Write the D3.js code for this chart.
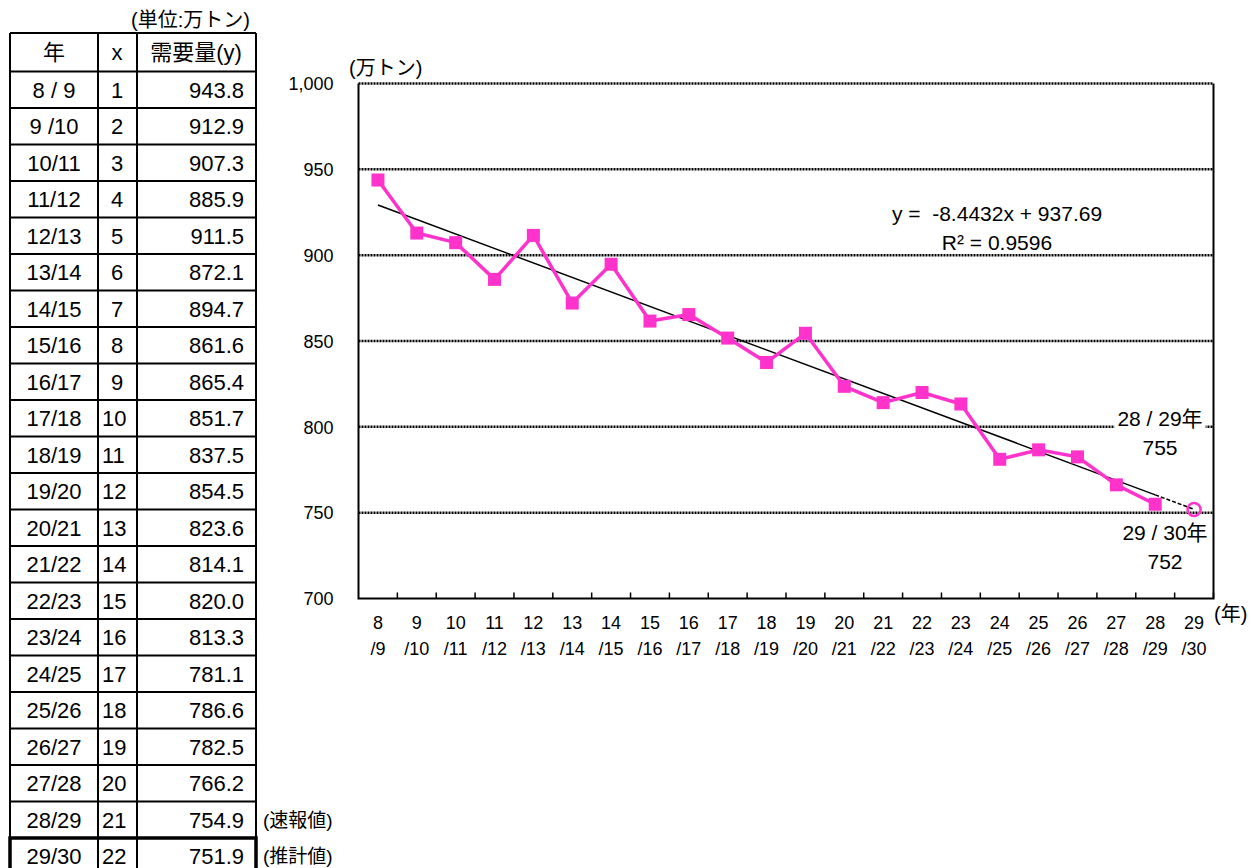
<!DOCTYPE html>
<html lang="ja">
<head>
<meta charset="utf-8">
<script src="https://cdn.jsdelivr.net/npm/d3@7"></script>
<style>
  html, body { margin: 0; padding: 0; background: #fff; }
  svg text { font-family: "Liberation Sans", Arial, "Noto Sans CJK JP", sans-serif; fill: #000; }
</style>
</head>
<body>
<svg id="chart" width="1252" height="868"></svg>
<script>
// Fiscal-year labels used in the table
const yearLabels = ["8 / 9", "9 /10", "10/11", "11/12", "12/13", "13/14", "14/15", "15/16", "16/17", "17/18", "18/19",
  "19/20", "20/21", "21/22", "22/23", "23/24", "24/25", "25/26", "26/27", "27/28", "28/29", "29/30"];
// Sequence number x
const xIndex = [1, 2, 3, 4, 5, 6, 7, 8, 9, 10, 11, 12, 13, 14, 15, 16, 17, 18, 19, 20, 21, 22];
// Demand (10,000 t)
const demand = [943.8, 912.9, 907.3, 885.9, 911.5, 872.1, 894.7, 861.6, 865.4, 851.7, 837.5,
  854.5, 823.6, 814.1, 820.0, 813.3, 781.1, 786.6, 782.5, 766.2, 754.9, 751.9];
// Axis tick labels (two lines per category)
const tickTop = ["8", "9", "10", "11", "12", "13", "14", "15", "16", "17", "18", "19", "20", "21", "22", "23", "24", "25", "26", "27", "28", "29"];
const tickBottom = ["/9", "/10", "/11", "/12", "/13", "/14", "/15", "/16", "/17", "/18", "/19", "/20", "/21", "/22", "/23", "/24", "/25", "/26", "/27", "/28", "/29", "/30"];
const yTicks = [700, 750, 800, 850, 900, 950, 1000];
// Linear trend (least squares over x = 1..21)
const trendSlope = -8.4432;
const trendIntercept = 937.69;
const rSquared = 0.9596;

(function draw() {
const svg = d3.select("#chart");
const PINK = "#ff33cc";

/* ---------- table ---------- */
const colX = [10, 98, 137, 256];
const headTop = 33, headBottom = 71.5, rowH = 36.5;
const tbl = svg.append("g");
const nRows = demand.length;
const tableBottom = headBottom + rowH * nRows;

tbl.append("text").attr("x", 250).attr("y", 27)
  .attr("text-anchor", "end").attr("font-size", 20).text("(単位:万トン)");

// grid lines
const rowLines = d3.range(nRows + 1).map(i => headBottom + rowH * i);
tbl.selectAll("line.h").data([headTop].concat(rowLines.slice(0, nRows))).join("line")
  .attr("x1", colX[0]).attr("x2", colX[3]).attr("y1", d => d).attr("y2", d => d)
  .attr("stroke", "#000").attr("stroke-width", 2);
tbl.selectAll("line.v").data(colX).join("line")
  .attr("x1", d => d).attr("x2", d => d).attr("y1", headTop).attr("y2", tableBottom + 10)
  .attr("stroke", "#000").attr("stroke-width", 2);
// thick frame around the estimated row
const lastTop = headBottom + rowH * (nRows - 1);
tbl.append("path")
  .attr("d", `M${colX[0]},${tableBottom + 10}V${lastTop}H${colX[3]}V${tableBottom + 10}`)
  .attr("fill", "none").attr("stroke", "#000").attr("stroke-width", 3.5);

// header
const headY = (headTop + headBottom) / 2 + 8;
tbl.append("text").attr("x", 54).attr("y", headY).attr("text-anchor", "middle")
  .attr("font-size", 22).text("年");
tbl.append("text").attr("x", 117).attr("y", headY).attr("text-anchor", "middle")
  .attr("font-size", 22).text("x");
tbl.append("text").attr("x", 196).attr("y", headY).attr("text-anchor", "middle")
  .attr("font-size", 22).text("需要量(y)");

const rowY = i => headBottom + rowH * i + rowH / 2 + 8;
tbl.selectAll("text.yr").data(yearLabels).join("text")
  .attr("x", 54).attr("y", (d, i) => rowY(i)).attr("text-anchor", "middle")
  .attr("font-size", 22).style("white-space", "pre").text(d => d);
tbl.selectAll("text.xi").data(xIndex).join("text")
  .attr("x", 102).attr("y", (d, i) => rowY(i))
  .attr("dx", d => d < 10 ? 9 : 0)
  .attr("font-size", 22).text(d => d);
tbl.selectAll("text.val").data(demand).join("text")
  .attr("x", 244).attr("y", (d, i) => rowY(i)).attr("text-anchor", "end")
  .attr("font-size", 22).text(d => d.toFixed(1));

tbl.append("text").attr("x", 263).attr("y", rowY(nRows - 2) - 1)
  .attr("font-size", 19).text("(速報値)");
tbl.append("text").attr("x", 263).attr("y", rowY(nRows - 1) - 1)
  .attr("font-size", 19).text("(推計値)");

/* ---------- chart ---------- */
const pLeft = 358.5, pRight = 1213.5, pTop = 83.5, pBottom = 598.5;
const x = d3.scaleBand().domain(xIndex).range([pLeft, pRight]).paddingInner(0).paddingOuter(0);
const cx = i => x(i) + x.bandwidth() / 2;
const y = d3.scaleLinear().domain([700, 1000]).range([pBottom, pTop]);

const g = svg.append("g");

// dotted gridlines
g.selectAll("line.grid").data(yTicks.filter(v => v > 700)).join("line")
  .attr("x1", pLeft).attr("x2", pRight).attr("y1", d => y(d)).attr("y2", d => y(d))
  .attr("stroke", "#000").attr("stroke-width", 2.5).attr("stroke-dasharray", "2,1");

// y axis
const yAxis = g.append("g").attr("transform", `translate(${pLeft},0)`)
  .call(d3.axisLeft(y).tickValues(yTicks).tickFormat(d3.format(",")).tickSize(0).tickPadding(25));
yAxis.select(".domain").remove();
yAxis.selectAll("text").attr("font-size", 18).attr("dy", "0.35em")
  .style("font-family", "'Liberation Sans', Arial, sans-serif").attr("fill", "#000");

// axis frame: left, bottom, right
g.append("path").attr("d", `M${pLeft},${pTop}V${pBottom}H${pRight}V${pTop}`)
  .attr("fill", "none").attr("stroke", "#000").attr("stroke-width", 2);

// x ticks at category boundaries, pointing into the plot
const bounds = xIndex.map(i => x(i)).concat([pRight]);
g.selectAll("line.xt").data(bounds.slice(1)).join("line")
  .attr("x1", d => d).attr("x2", d => d).attr("y1", pBottom).attr("y2", pBottom - 6)
  .attr("stroke", "#000").attr("stroke-width", 1.5);

// x tick labels
g.selectAll("text.xl1").data(tickTop).join("text")
  .attr("x", (d, i) => cx(xIndex[i])).attr("y", 629).attr("text-anchor", "middle")
  .attr("font-size", 18).text(d => d);
g.selectAll("text.xl2").data(tickBottom).join("text")
  .attr("x", (d, i) => cx(xIndex[i])).attr("y", 655).attr("text-anchor", "middle")
  .attr("font-size", 18).text(d => d);

// unit labels
g.append("text").attr("x", 349).attr("y", 75).attr("font-size", 20).text("(万トン)");
g.append("text").attr("x", 1214).attr("y", 621).attr("font-size", 20).text("(年)");

// trend line: fitted range solid, one-period forecast dashed
const trend = v => trendSlope * v + trendIntercept;
const nFit = xIndex.length - 1;
g.append("line")
  .attr("x1", cx(1)).attr("y1", y(trend(1)))
  .attr("x2", cx(nFit)).attr("y2", y(trend(nFit)))
  .attr("stroke", "#000").attr("stroke-width", 1.5);
g.append("line")
  .attr("x1", cx(nFit)).attr("y1", y(trend(nFit)))
  .attr("x2", cx(nFit + 1)).attr("y2", y(trend(nFit + 1)))
  .attr("stroke", "#000").attr("stroke-width", 1.5).attr("stroke-dasharray", "4,2");

// demand series (actual values)
const actual = xIndex.slice(0, nFit).map((v, i) => ({ x: v, y: demand[i] }));
g.append("path").datum(actual)
  .attr("d", d3.line().x(d => cx(d.x)).y(d => y(d.y)))
  .attr("fill", "none").attr("stroke", PINK).attr("stroke-width", 3.5).attr("stroke-linejoin", "round");
const ms = 13;
g.selectAll("rect.m").data(actual).join("rect")
  .attr("x", d => cx(d.x) - ms / 2).attr("y", d => y(d.y) - ms / 2)
  .attr("width", ms).attr("height", ms).attr("fill", PINK);

// estimated value
g.append("circle")
  .attr("cx", cx(xIndex[nFit])).attr("cy", y(demand[nFit])).attr("r", 6.5)
  .attr("fill", "none").attr("stroke", PINK).attr("stroke-width", 2.5);

// regression equation
g.append("text").attr("x", 997).attr("y", 221).attr("text-anchor", "middle").attr("font-size", 21)
  .style("white-space", "pre")
  .text(`y =  ${trendSlope}x + ${trendIntercept}`);
g.append("text").attr("x", 997).attr("y", 250).attr("text-anchor", "middle").attr("font-size", 21)
  .text(`R² = ${rSquared}`);

// point annotations
function note(lines, cxp, y0) {
  const t = g.append("text").attr("text-anchor", "middle").attr("font-size", 21)
    .style("white-space", "pre");
  lines.forEach((s, k) => t.append("tspan").attr("x", cxp).attr("y", y0 + k * 29).text(s));
  const bb = t.node().getBBox();
  g.insert("rect", () => t.node())
    .attr("x", bb.x - 3).attr("y", bb.y).attr("width", bb.width + 6).attr("height", bb.height)
    .attr("fill", "#fff");
}
const spaced = s => s.replace(/\s*\/\s*/, " / ");
note([`${spaced(yearLabels[nFit - 1])}年`, `${Math.round(demand[nFit - 1])}`], 1160, 426);
note([`${spaced(yearLabels[nFit])}年`, `${Math.round(demand[nFit])}`], 1165, 540);
})();
</script>
</body>
</html>
